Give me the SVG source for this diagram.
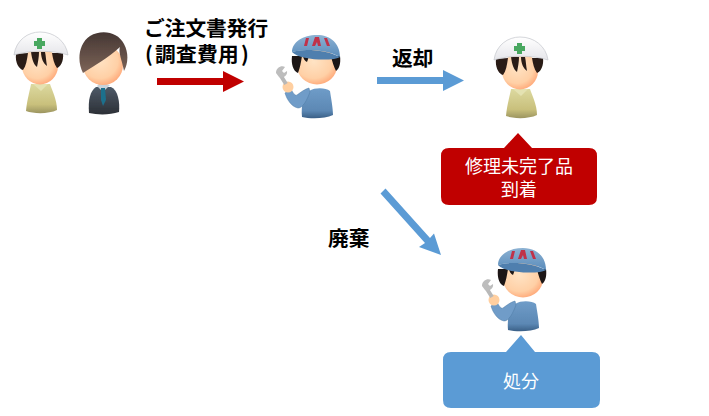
<svg xmlns="http://www.w3.org/2000/svg" xmlns:xlink="http://www.w3.org/1999/xlink" width="709" height="416" viewBox="0 0 709 416">
<style>
text{font-family:"Noto Sans CJK JP","Noto Sans",sans-serif}
.lbl{font-size:20.700px;font-weight:700;fill:#000}
.cap{font-size:18px;fill:#fff;text-anchor:middle}
.red{fill:#c00000}
.blue{fill:#5b9bd5}
</style>
<defs>
<filter id="soft" x="-10%" y="-10%" width="120%" height="120%"><feGaussianBlur stdDeviation="0.5"/></filter>
<radialGradient id="face" cx="0.42" cy="0.38" r="0.7"><stop offset="0" stop-color="#ffe3c4"/><stop offset="0.65" stop-color="#ffd0a6"/><stop offset="1" stop-color="#ff9f6e"/></radialGradient>
<linearGradient id="khaki" x1="0" y1="0" x2="0" y2="1"><stop offset="0" stop-color="#dcd9a0"/><stop offset="0.7" stop-color="#c9c07c"/><stop offset="1" stop-color="#9c9560"/></linearGradient>
<linearGradient id="navy" x1="0" y1="0" x2="0" y2="1"><stop offset="0" stop-color="#4e5a68"/><stop offset="1" stop-color="#2c3036"/></linearGradient>
<linearGradient id="hair" x1="0" y1="0" x2="0" y2="1"><stop offset="0" stop-color="#453733"/><stop offset="1" stop-color="#7d6458"/></linearGradient>
<linearGradient id="overall" x1="0" y1="0" x2="0" y2="1"><stop offset="0" stop-color="#6f9cc8"/><stop offset="0.75" stop-color="#5c88b4"/><stop offset="1" stop-color="#3a5f86"/></linearGradient>
<linearGradient id="cap" x1="0" y1="0" x2="0" y2="1"><stop offset="0" stop-color="#8db2d3"/><stop offset="1" stop-color="#5a8cbb"/></linearGradient>
<linearGradient id="helmet" x1="0" y1="0" x2="0" y2="1"><stop offset="0" stop-color="#fff"/><stop offset="1" stop-color="#e6e6ea"/></linearGradient>
<g id="foreman" filter="url(#soft)">
<path d="M-14 111C-13 100-10 90-9 84H10C12 90 17 100 17 110C9 114-6 114-14 111Z" fill="url(#khaki)"/>
<path d="M-7 84L1 91L8 84Z" fill="#e4e2b2"/>
<ellipse cx="0" cy="66" rx="18" ry="18.500" fill="url(#face)"/>
<path d="M-24 54C-25 63-21 69-17 70C-14 66-13 60-12 53ZM23 53C24 62 20 67 17 68C14 64 13 59 12 53ZM-9 52C-8 60-6 65-3 67C-2 62-1 57-1 52ZM1 52C1 59 4 64 7 66C6 61 6 56 5 52Z" fill="#2a1c18"/>
<path d="M-26 55C-24 40-12 32 0 32C14 32 26 41 28 55C14 50-12 50-26 55Z" fill="url(#helmet)" stroke="#c9ccd0" stroke-width="0.8"/>
<path d="M-3 38h5v3h3v5h-3v3h-5v-3h-3v-5h3Z" fill="#4aa860"/>
</g>
<g id="mechanic" filter="url(#soft)">
<path d="M-13 117C-14 106-12 96-6 91C1 87 11 88 15 91C16 98 18 108 18 115C10 119-5 119-13 117Z" fill="url(#overall)"/>
<path d="M-5 92C-8 100-12 108-17 108C-23 107-28 100-30 93L-24 89C-22 93-20 96-18 95C-14 92-10 89-6 88Z" fill="#6f9cc8" stroke="#4f7aa5" stroke-width="0.5"/>
<circle cx="-27" cy="87" r="5.500" fill="#ffcfa0"/>
<path d="M-29 84L-34 76" stroke="#b8b8b8" stroke-width="4"/>
<path d="M-39 73C-39 67-33 65-30 67L-33 71L-31 73L-28 71C-27 76-33 79-36 77Z" fill="#bdbdbd"/>
<ellipse cx="2" cy="66" rx="20" ry="18.500" fill="url(#face)"/>
<path d="M-23 56C-24 64-22 71-17 73C-15 68-14 62-13 56ZM25 56C26 64 24 69 21 71C19 67 17 61 16 56ZM-12 54C-12 59-10 61-8 62C-7 59-6 57-6 54Z" fill="#1c1614"/>
<path d="M-23 52C-23 42-12 35 2 35C15 35 25 43 25 57C14 50-10 48-23 52Z" fill="url(#cap)"/>
<path d="M-23 52C-12 48 12 50 25 57C20 61-15 61-23 52Z" fill="#4f7fae"/>
<path d="M-11 46L-9 38L-6 38L-8 46ZM-3 46L0 37H4L6 46H3L2 42L0 46ZM9 38L12 38L15 46L12 46Z" fill="#c0304a"/>
</g>
</defs>
<g id="connectors">
<path id="order-arrow" class="red" d="M157 78H223V71L244 81.500L223 92V85H157Z"/>
<path id="return-arrow" class="blue" d="M377 77H443V70L464 80.500L443 91V84H377Z"/>
<path id="discard-arrow" class="blue" d="M380.500 193.500L385.500 188.500L430 238L434 233.500L441 255L419 247L425 243Z"/>
</g>
<g id="customer-foreman"><use xlink:href="#foreman" href="#foreman" x="40"/></g>
<g id="customer-suit" filter="url(#soft)">
<path d="M89 113C88 100 90 91 96 87H111C118 90 120 102 119 112C110 115 98 115 89 113Z" fill="url(#navy)"/>
<path d="M97 86L103 92L110 85L106 84H99Z" fill="#c8d2da"/>
<path d="M101 88H105L106 100L103 106L101 100Z" fill="#1d6f8c"/>
<ellipse cx="103" cy="65" rx="20" ry="20" fill="url(#face)"/>
<path d="M83 73C77 62 78 44 90 36C102 29 118 32 124 44C129 53 128 64 124 71C122 60 118 52 120 47C108 58 94 66 83 73Z" fill="url(#hair)"/>
</g>
<g id="order-label">
<text class="lbl" x="144" y="36">ご注文書発行</text>
<text class="lbl" x="145 155 176 197 218 241" y="62">(調査費用)</text>
</g>
<g id="repair-mechanic"><use xlink:href="#mechanic" href="#mechanic" x="315"/></g>
<g id="return-label"><text class="lbl" x="392" y="66">返却</text></g>
<g id="return-foreman"><use xlink:href="#foreman" href="#foreman" x="520" y="5"/></g>
<g id="unfinished-callout">
<path class="red" d="M449 148H504L518 133L532 148H589Q597 148 597 156V197Q597 205 589 205H449Q441 205 441 197V156Q441 148 449 148Z"/>
<text class="cap" x="519" y="173">修理未完了品</text>
<text class="cap" x="519" y="196">到着</text>
</g>
<g id="discard-label"><text class="lbl" x="328" y="246">廃棄</text></g>
<g id="disposal-mechanic"><use xlink:href="#mechanic" href="#mechanic" x="521" y="213"/></g>
<g id="disposal-callout">
<path class="blue" d="M451 352H506L521 335L535 352H592Q600 352 600 360V400Q600 408 592 408H451Q443 408 443 400V360Q443 352 451 352Z"/>
<text class="cap" x="521" y="388">処分</text>
</g>
</svg>
